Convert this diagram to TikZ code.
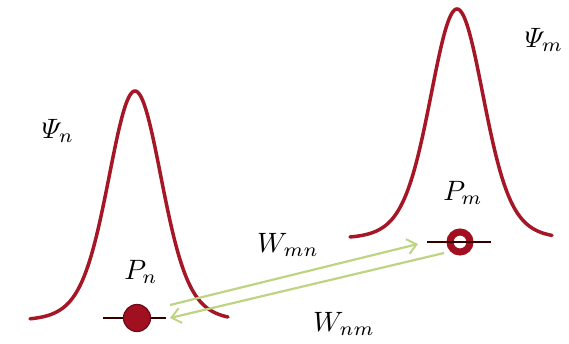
\documentclass[tikz,border=0pt]{standalone}
\usepackage{amsmath}
\usetikzlibrary{arrows.meta}
\definecolor{curvered}{RGB}{165,22,38}
\definecolor{dotred}{RGB}{160,16,32}
\definecolor{dotedge}{RGB}{110,10,22}
\definecolor{wgreen}{RGB}{190,212,130}
\tikzset{
  curve/.style={curvered, line width=3.5pt, line cap=round},
  tick/.style={black!80!red, line width=1.4pt},
  warrow/.style={wgreen, line width=2.2pt, -{Straight Barb[length=9pt,width=15pt,line width=2pt]}},
  lbl/.style={scale=2.8, inner sep=0pt},
}
\begin{document}
\begin{tikzpicture}[x=1pt,y=-1pt]
\useasboundingbox (0,0) rectangle (569,343);
% wave functions
\draw[curve] plot[domain=-105:93, samples=150, smooth] ({135+\x}, {320-229*(0.7*exp(-(\x)*(\x)/(2*24*24))+0.3*exp(-(\x)*(\x)/(2*37*37)))});
\draw[curve] plot[domain=-107:95, samples=150, smooth] ({457+\x}, {238-229*(0.7*exp(-(\x)*(\x)/(2*24*24))+0.3*exp(-(\x)*(\x)/(2*37*37)))});
% labels
\node[lbl] (psin) at (58,131) {$\varPsi_n$};
\node[lbl] (psim) at (544,40) {$\varPsi_m$};
\node[lbl] (pn) at (141,272) {$P_n$};
\node[lbl] (pm) at (463,193) {$P_m$};
\node[lbl] (wmn) at (288,245) {$W_{mn}$};
\node[lbl] (wnm) at (344,324) {$W_{nm}$};
% level lines
\coordinate (ln1) at (103,318); \coordinate (ln2) at (166,318);
\coordinate (lm1) at (427,242); \coordinate (lm2) at (491,242);
\draw[tick] (ln1) -- (ln2);
\draw[tick] (lm1) -- (lm2);
% states
\node[circle, fill=dotred, draw=dotedge, line width=1.2pt, minimum size=27pt, inner sep=0pt] (dn) at (137,318) {};
\node[circle, fill=white, draw=dotred, line width=7pt, minimum size=20pt, inner sep=0pt] (dm) at (460,242) {};
\draw[tick] (dm.west) -- (dm.east);
% transitions
\coordinate (a1s) at (170,305); \coordinate (a1e) at (418,244);
\coordinate (a2s) at (444,253); \coordinate (a2e) at (170,318);
\draw[warrow] (a1s) -- (a1e);
\draw[warrow] (a2s) -- (a2e);
\end{tikzpicture}
\end{document}
